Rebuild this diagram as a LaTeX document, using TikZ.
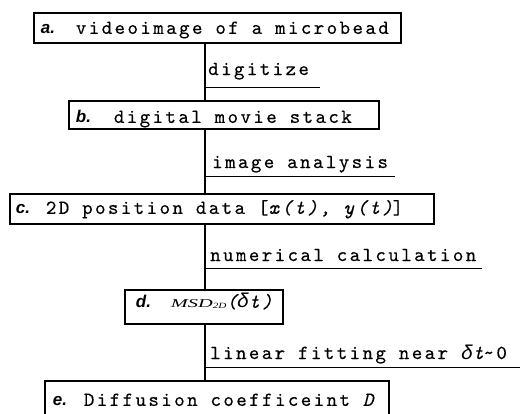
\documentclass[tikz,border=0pt]{standalone}
\usepackage{fontspec}
\usepackage{graphicx}
\newfontfamily\labfam{Liberation Sans}
\newfontfamily\serfam{Liberation Serif}
\newfontfamily\monofam[Extension=.otf, UprightFont=*-regular, ItalicFont=*-italic, LetterSpace=12, FakeBold=0.3]{lmmono10}
\newfontfamily\grkfam[LetterSpace=12]{Liberation Mono}
\newcommand\monofont{\fontsize{20}{23}\selectfont\monofam}
\newcommand\dlt{{\grkfam\itshape δ}}
\newcommand\stlabel[2]{\makebox[#1][l]{\labfam\bfseries\itshape\fontsize{17}{20}\selectfont #2}}
\newcommand\inbox[2]{\makebox[#1][l]{#2}}
\begin{document}
\begin{tikzpicture}[x=1pt,y=-1pt,
  stepbox/.style={draw, line width=1.8pt, fill=white, anchor=north west,
    inner ysep=0pt, font=\monofont},
  steplabel/.style={anchor=base west, inner sep=0pt, font=\monofont},
  spine/.style={line width=1.8pt},
  uline/.style={line width=1pt}]
\useasboundingbox (0,0) rectangle (522,413);
\coordinate (sp) at (205,0);
% boxes
\node[stepbox, minimum height=30pt, inner xsep=7pt, text height=14pt, text depth=2pt]
  (a) at (33,12) {\inbox{353pt}{\stlabel{35pt}{a.}videoimage of a microbead}};
\node[stepbox, minimum height=28pt, inner xsep=7pt, text height=18pt, text depth=2pt]
  (b) at (68,100) {\inbox{296pt}{\stlabel{38pt}{b.}digital movie stack}};
\node[stepbox, minimum height=30pt, inner xsep=6pt, text height=12pt, text depth=2pt]
  (c) at (9,193) {\inbox{412pt}{\stlabel{30pt}{c.}2D position data [{\itshape x(t), y(t)}]}};
\node[stepbox, minimum height=34pt, inner xsep=11pt, text height=4pt, text depth=2pt]
  (d) at (124,289) {\inbox{136pt}{\stlabel{35pt}{d.}{\serfam\itshape\fontsize{12}{14}\selectfont\scalebox{1.7}[1]{MSD}\raisebox{-1pt}{\scalebox{1.4}[1]{\fontsize{8}{9}\selectfont 2D}}}{\itshape(\dlt t)}}};
\node[stepbox, minimum height=50pt, inner xsep=8pt, text height=6pt, text depth=6pt]
  (e) at (44,380) {\inbox{328pt}{\stlabel{31pt}{e.}Diffusion coefficeint {\itshape D}}};
% spine segments
\draw[spine] (a.south -| sp) -- (b.north -| sp);
\draw[spine] (b.south -| sp) -- (c.north -| sp);
\draw[spine] (c.south -| sp) -- (d.north -| sp);
\draw[spine] (d.south -| sp) -- (e.north -| sp);
% labels with underlines
\node[steplabel] (l1) at (208,75) {digitize};
\coordinate (u1) at (320,87);
\draw[uline] (sp |- u1) -- (u1);
\node[steplabel] (l2) at (212,168) {image analysis};
\coordinate (u2) at (395,176);
\draw[uline] (sp |- u2) -- (u2);
\node[steplabel] (l3) at (210,261) {numerical calculation};
\coordinate (u3) at (482,268);
\draw[uline] (sp |- u3) -- (u3);
\node[steplabel] (l4) at (210,359) {linear fitting near \dlt{\itshape t}\textasciitilde 0};
\coordinate (u4) at (520,367);
\draw[uline] (sp |- u4) -- (u4);
\end{tikzpicture}
\end{document}
